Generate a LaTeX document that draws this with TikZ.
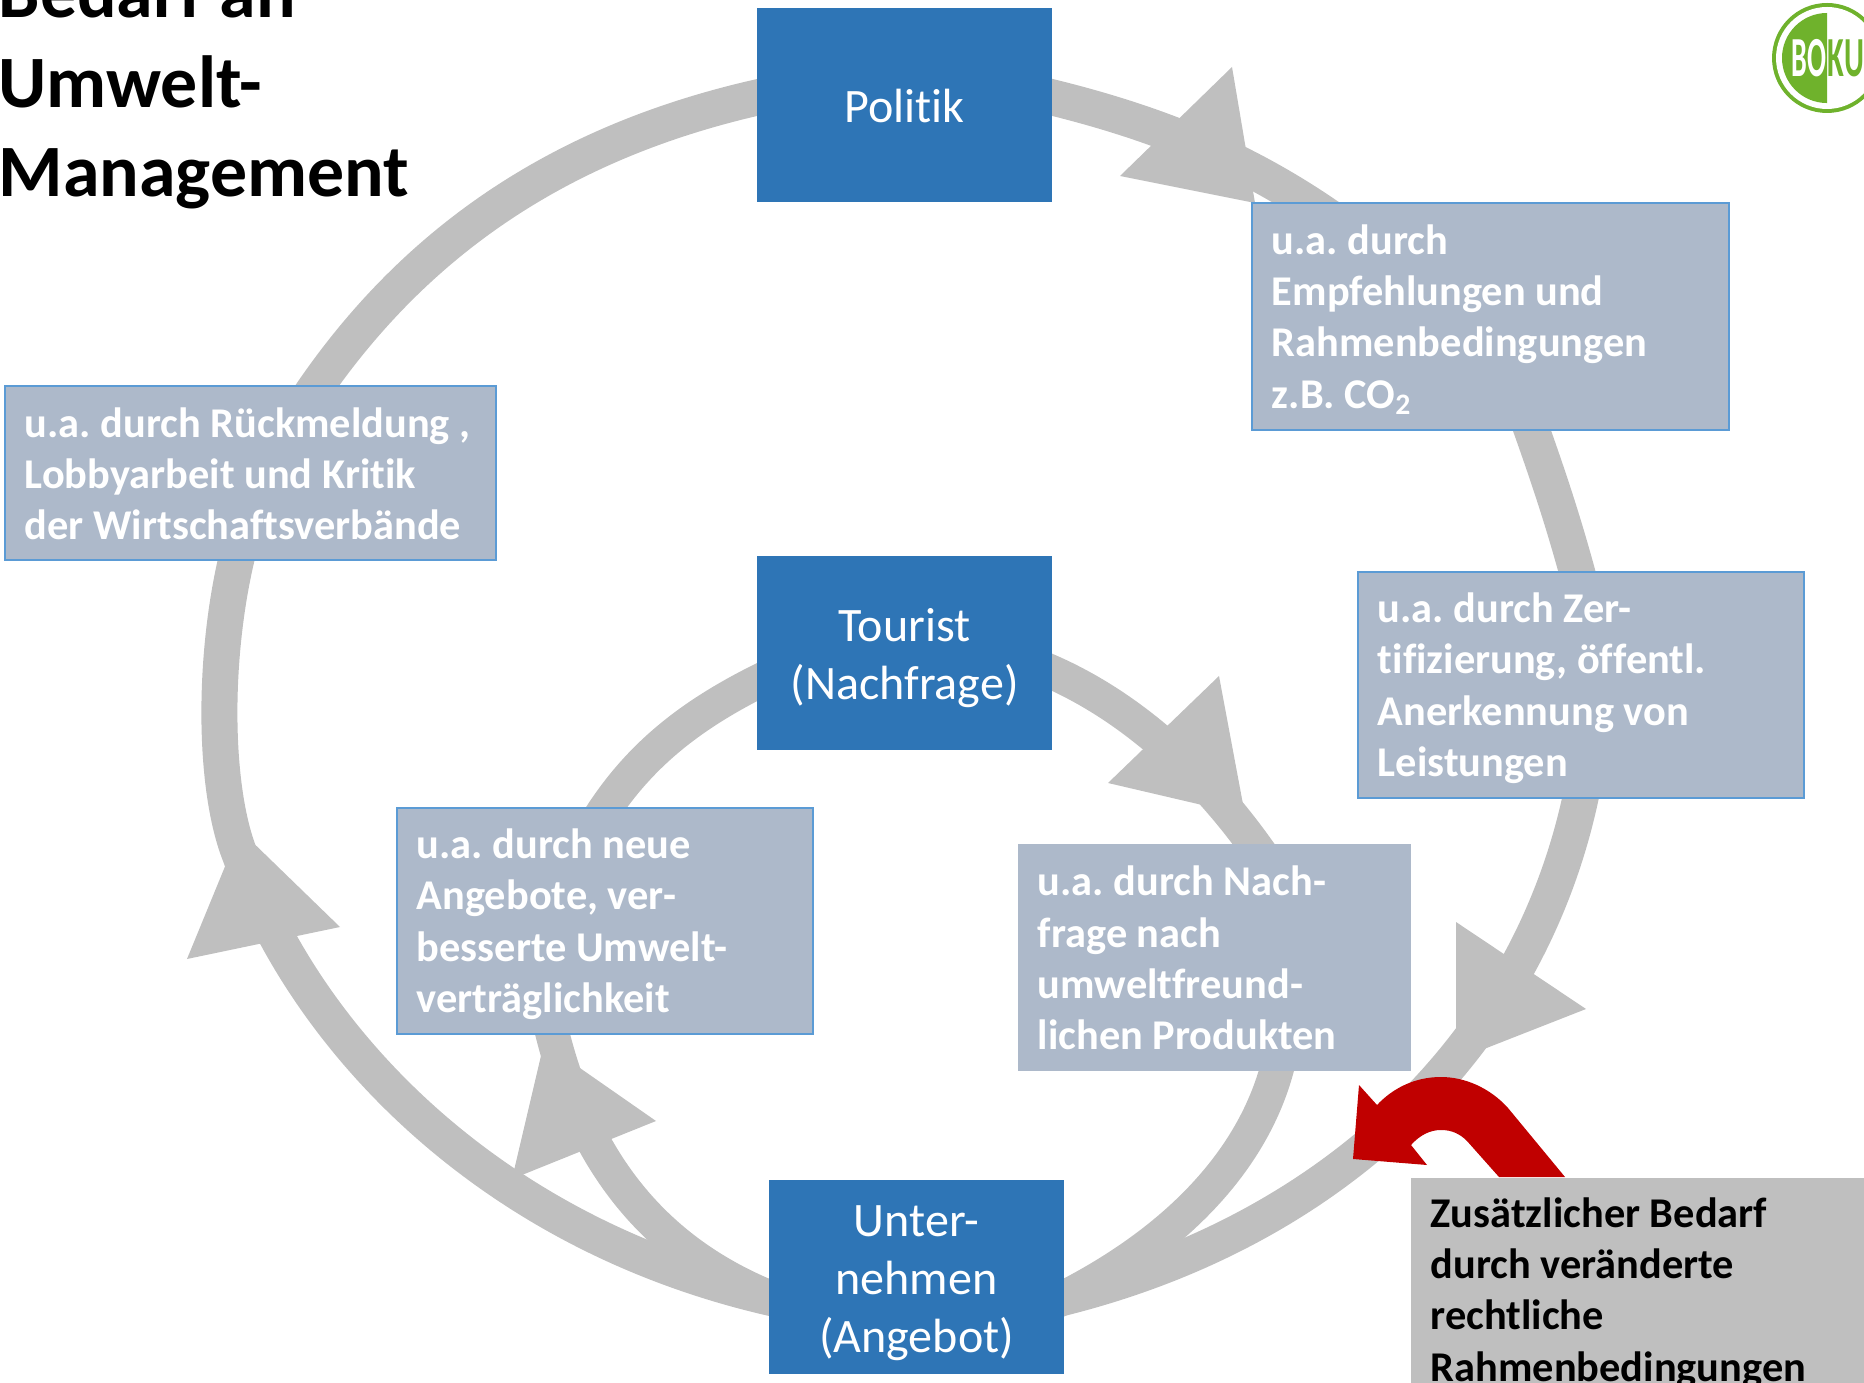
\documentclass[tikz,border=0pt]{standalone}
\usepackage{fontspec}
\setmainfont[Ligatures=NoCommon]{Carlito}
\usetikzlibrary{backgrounds}
\definecolor{ringgray}{HTML}{BFBFBF}
\definecolor{actorblue}{HTML}{2E75B6}
\definecolor{infofill}{HTML}{ADB9CA}
\definecolor{infoline}{HTML}{5B9BD5}
\definecolor{arrowred}{HTML}{C00000}
\definecolor{bokugreen}{HTML}{6FB22C}
\newcommand{\actoredge}{\rule[-3pt]{0pt}{16pt}}
\newcommand{\infoedge}{\rule[-1.4pt]{0pt}{11.6pt}}
\tikzstyle{actor} = [fill=actorblue, text=white, align=center, minimum width=2.95cm, minimum height=1.94cm, inner sep=0pt, font=\frenchspacing\fontsize{13.66}{16.6}\selectfont]
\tikzstyle{info} = [draw=infoline, line width=0.4pt, fill=infofill, text=white, align=flush left, inner xsep=0.2cm, inner ysep=0pt, font=\frenchspacing\bfseries\fontsize{12.05}{14.6}\selectfont]
\tikzstyle{bigring} = [draw=ringgray, line width=0.36cm, shorten <=-0.3cm, shorten >=-0.3cm]
\tikzstyle{smallring} = [draw=ringgray, line width=0.34cm, shorten <=-0.3cm, shorten >=-0.3cm]

\begin{document}
\begin{tikzpicture}[x=0.01cm,y=-0.01cm]
	\useasboundingbox (0,0) rectangle (1864,1383);
	\node[actor] (politik) at (904.5,105) {\actoredge Politik\actoredge};
	\node[actor] (tourist) at (904.5,653) {\actoredge Tourist\\(Nachfrage)\actoredge};
	\node[actor] (unternehmen) at (916.5,1277) {\actoredge Unter-\\nehmen\\(Angebot)\actoredge};
	\node[info, minimum width=4.77cm, minimum height=2.27cm, text width=4.37cm] (empfehlung) at (1490.5,316.5) {\infoedge u.a. durch\\Empfehlungen und\\Rahmenbedingungen\\z.B. CO\textsubscript{2}\infoedge};
	\node[info, minimum width=4.46cm, minimum height=2.26cm, text width=4.06cm] (zertifikat) at (1581,685) {\infoedge u.a. durch Zer-\\tifizierung, öffentl.\\Anerkennung von\\Leistungen\infoedge};
	\node[info, draw=none, minimum width=3.93cm, minimum height=2.27cm, text width=3.53cm] (nachfrage) at (1214.5,957.5) {\infoedge u.a. durch Nach-\\frage nach\\umweltfreund-\\lichen Produkten\infoedge};
	\node[info, minimum width=4.16cm, minimum height=2.26cm, text width=3.76cm] (angebote) at (605,921) {\infoedge u.a. durch neue\\Angebote, ver-\\besserte Umwelt-\\verträglichkeit\infoedge};
	\node[info, minimum width=4.91cm, minimum height=1.74cm, text width=4.51cm] (rueckmeldung) at (250.5,473) {\infoedge\mbox{u.a. durch Rückmeldung ,}\\Lobbyarbeit und Kritik\\der Wirtschaftsverbände\infoedge};
	\node[anchor=north west, fill=ringgray, text=black, align=flush left, text width=4.14cm, minimum width=4.54cm, minimum height=2.3cm, inner xsep=0.2cm, inner ysep=0.13cm, font=\frenchspacing\bfseries\fontsize{12.05}{14.6}\selectfont] (bedarf) at (1410,1177) {Zusätzlicher Bedarf\\durch veränderte\\rechtliche\\Rahmenbedingungen};
	\node[anchor=north west, align=left, inner sep=0pt, font=\bfseries\fontsize{21}{25.5}\selectfont] (titel) at (-2,-35) {Bedarf an\\Umwelt-\\Management};
	\begin{scope}[on background layer]
		\draw[bigring] (politik.3) .. controls (1145,118) and (1240,155) .. (empfehlung.148);
		\draw[bigring] (empfehlung.-70) .. controls (1548,475) and (1565,525) .. (zertifikat.92);
		\draw[bigring] (zertifikat.south) .. controls (1540,1040) and (1330,1240) .. (unternehmen.-8);
		\draw[bigring] (unternehmen.188) .. controls (500,1245) and (308,1045) .. (240,855) .. controls (212,785) and (212,640) .. (rueckmeldung.260);
		\draw[bigring] (rueckmeldung.53) .. controls (412,238) and (570,134) .. (politik.177);
		\draw[smallring] (tourist.-7) .. controls (1120,695) and (1205,770) .. (nachfrage.71);
		\draw[smallring] (nachfrage.-61) .. controls (1265,1150) and (1180,1245) .. (unternehmen.-8);
		\draw[smallring] (unternehmen.188) .. controls (670,1265) and (580,1175) .. (angebote.245);
		\draw[smallring] (angebote.north) .. controls (635,755) and (695,710) .. (tourist.191);
		\fill[ringgray] (1232,67) -- (1120,176) -- (1255,203) -- cycle;
		\fill[ringgray] (1456,922) -- (1586,1009) -- (1456,1060) -- cycle;
		\fill[ringgray] (240,830) -- (340,927) -- (187,959) -- cycle;
		\fill[ringgray] (1219,676) -- (1108,783) -- (1245,815) -- cycle;
		\fill[ringgray] (544,1043) -- (656,1121) -- (512,1179) -- cycle;
	\end{scope}
	\fill[arrowred] (1565,1177) -- (1508,1108) .. controls (1490,1088) and (1465,1077) .. (1441,1077) .. controls (1415,1077) and (1393,1088) .. (1377,1105) -- (1359,1085) -- (1353,1159) -- (1427,1165) -- (1411,1145) .. controls (1420,1135) and (1430,1130) .. (1441,1130) .. controls (1452,1130) and (1460,1134) .. (1467,1141) -- (1499,1177) -- cycle;
	\fill[bokugreen] (1827,58) circle (55);
	\fill[white] (1827,58) circle (51);
	\fill[bokugreen] (1827,13) arc[start angle=90, end angle=270, radius=0.45cm] -- cycle;
	\node[text=white, inner sep=0pt, font=\bfseries\fontsize{14}{14}\selectfont] (bo) at (1809,58.5) {\scalebox{0.57}[1.15]{BO}};
	\node[text=bokugreen, inner sep=0pt, font=\bfseries\fontsize{14}{14}\selectfont] (ku) at (1846,58.5) {\scalebox{0.62}[1.15]{KU}};
\end{tikzpicture}
\end{document}
